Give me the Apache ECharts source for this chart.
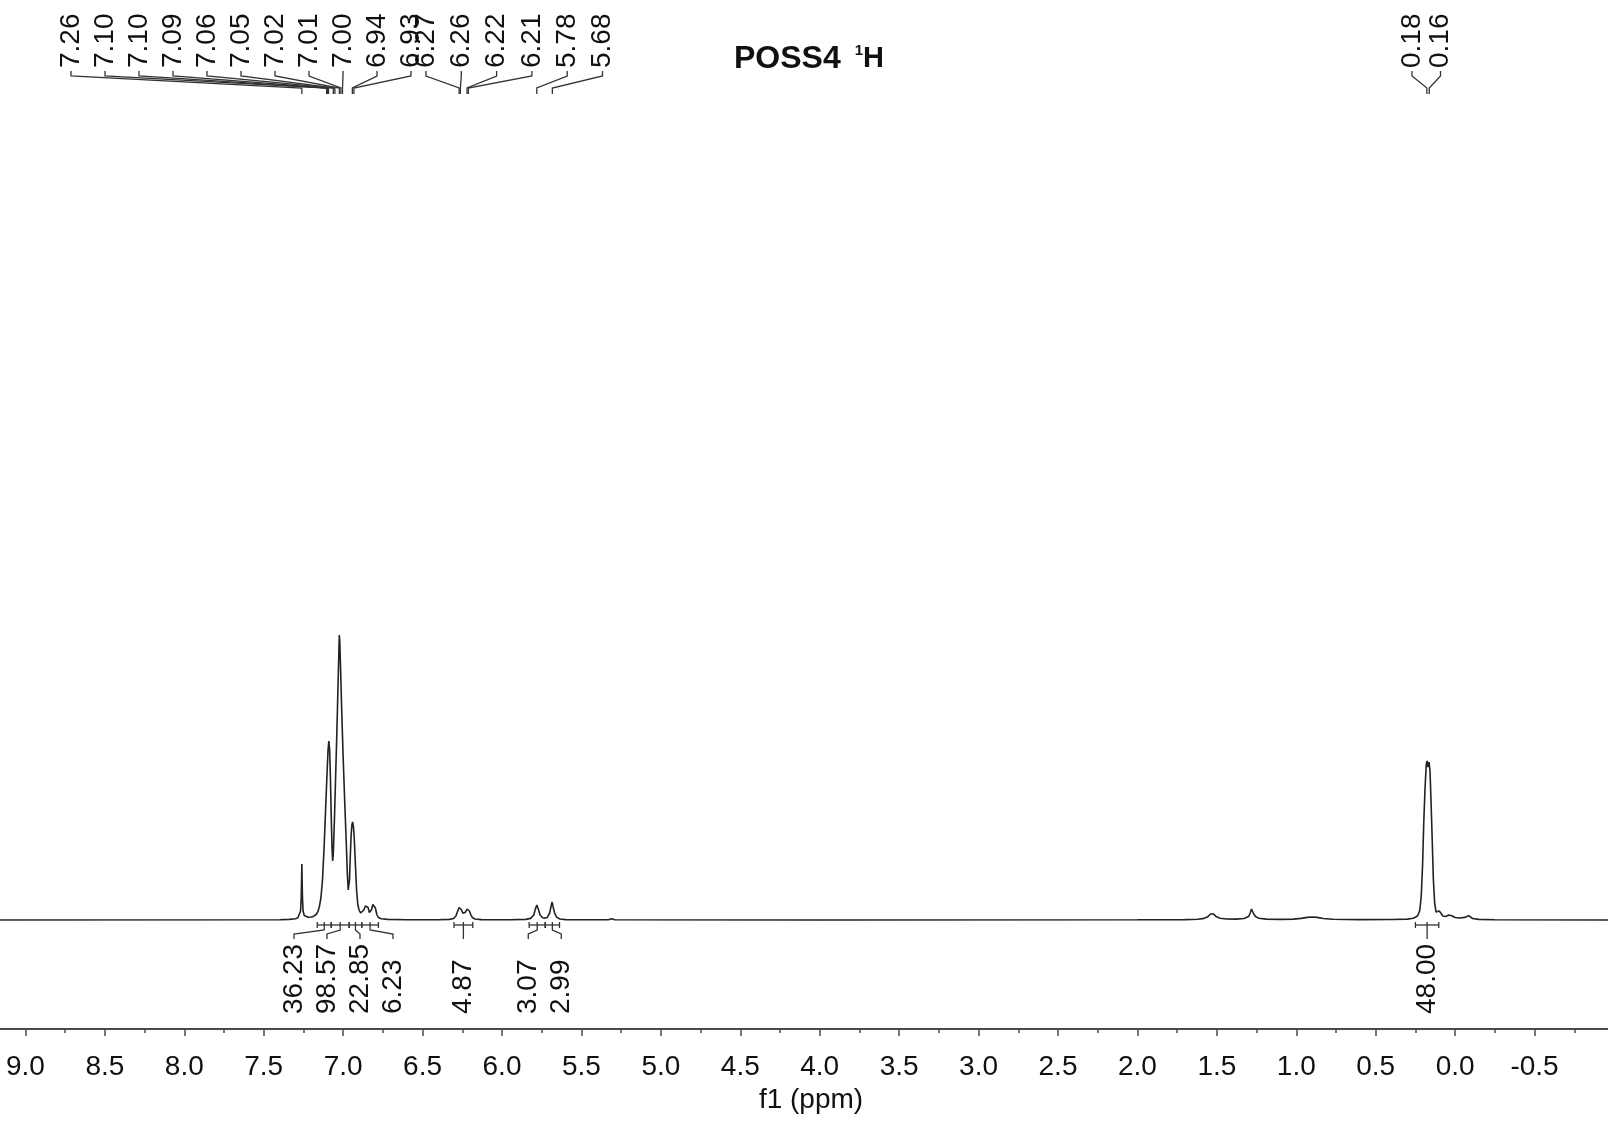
<!DOCTYPE html>
<html><head><meta charset="utf-8">
<script src="https://cdn.jsdelivr.net/npm/echarts@6/dist/echarts.min.js"></script>
<style>
html,body{margin:0;padding:0;background:#fff;overflow:hidden;width:1608px;height:1121px;}
#chart{position:absolute;left:-54px;top:0;width:1668px;height:1121px;}
</style>
</head><body><div id="chart"></div>
<script>
// ---- spectrum trace (ppm, intensity) ----
const spectrumPpm = [
  9.5, 7.40, 7.34, 7.30, 7.285, 7.275, 7.268, 7.264, 7.2615, 7.260, 7.2585, 7.256, 7.252, 7.245, 7.235, 7.22, 7.20, 7.185, 7.17, 7.16,
  7.15, 7.14, 7.13, 7.12, 7.11, 7.10, 7.095, 7.09, 7.085, 7.08, 7.075, 7.07, 7.066, 7.062, 7.055, 7.05, 7.04, 7.03, 7.026, 7.024,
  7.021, 7.015, 7.01, 7.00, 6.99, 6.98, 6.974, 6.968, 6.965, 6.96, 6.955, 6.95, 6.945, 6.94, 6.935, 6.93, 6.923, 6.915, 6.908, 6.90,
  6.89, 6.88, 6.87, 6.86, 6.851, 6.843, 6.835, 6.829, 6.822, 6.813, 6.805, 6.797, 6.788, 6.778, 6.76, 6.72, 6.60, 6.40, 6.33, 6.305,
  6.29, 6.28, 6.27, 6.264, 6.256, 6.246, 6.239, 6.23, 6.22, 6.213, 6.205, 6.195, 6.185, 6.17, 6.13, 5.95, 5.85, 5.82, 5.80, 5.79,
  5.781, 5.772, 5.76, 5.745, 5.73, 5.715, 5.70, 5.692, 5.685, 5.678, 5.668, 5.655, 5.635, 5.60, 5.33, 5.31, 5.29, 4.0, 2.0, 1.70,
  1.62, 1.58, 1.555, 1.54, 1.53, 1.52, 1.505, 1.48, 1.44, 1.38, 1.33, 1.30, 1.29, 1.282, 1.276, 1.268, 1.255, 1.235, 1.19, 1.10,
  1.02, 0.97, 0.93, 0.90, 0.87, 0.83, 0.77, 0.60, 0.40, 0.30, 0.265, 0.25, 0.235, 0.222, 0.213, 0.205, 0.198, 0.19, 0.182, 0.177,
  0.1705, 0.164, 0.158, 0.151, 0.144, 0.137, 0.129, 0.12, 0.11, 0.10, 0.094, 0.088, 0.078, 0.06, 0.04, 0.03, 0.018, 0.0, -0.03, -0.06,
  -0.085, -0.095, -0.11, -0.15, -0.25, -1.0
];
const spectrumIntensity = [
  0, 0.3, 0.6, 1.2, 2.2, 4, 9, 22, 42, 56, 42, 22, 9, 4.5, 3.2, 2.8, 3.0, 3.8, 5.5, 8,
  13, 22, 40, 72, 112, 152, 170, 179, 170, 142, 104, 72, 59, 66, 100, 128, 185, 248, 275, 285,
  278, 245, 215, 163, 118, 76, 48, 30, 28, 40, 64, 84, 95, 98, 93, 82, 56, 29, 16, 10,
  7, 7.5, 10, 14, 16, 12.5, 7.5, 6.5, 10, 15.5, 17, 12, 5.5, 2.5, 1.2, 0.6, 0.3, 0.3, 0.6, 1.5,
  4, 8.5, 12.5, 13.2, 10.5, 6.8, 6, 7.8, 11, 11.5, 9, 4.8, 2.2, 1, 0.4, 0.3, 0.6, 1.6, 5, 11,
  15, 11, 5, 2.3, 1.9, 2.6, 7, 13, 18, 13, 6.5, 2.6, 1, 0.4, 0.2, 1.3, 0.2, 0, 0.2, 0.4,
  0.7, 1.6, 3.5, 6, 7.3, 6, 3.4, 1.8, 1, 0.9, 1.5, 3.5, 7, 11, 10, 6, 3.2, 1.8, 0.9, 0.6,
  0.9, 1.6, 2.6, 3, 2.6, 1.5, 0.7, 0.4, 0.5, 0.9, 1.8, 2.7, 4.5, 10, 25, 55, 95, 130, 155, 159,
  153, 158, 148, 115, 78, 40, 17, 8, 6.5, 9, 10.5, 6.5, 4, 3.5, 5, 5.3, 4, 2.5, 2, 2.6,
  4.3, 3.5, 1.5, 0.6, 0.2, 0
];
// ---- peak picking ----
const peakPpm = [7.260, 7.104, 7.098, 7.092, 7.062, 7.052, 7.024, 7.014, 7.004, 6.942, 6.932,
                 6.270, 6.262, 6.220, 6.212, 5.781, 5.683, 0.178, 0.163];
// ---- integrals ----
const integralFrom  = [7.163, 7.075, 6.962, 6.883, 6.302, 5.829, 5.728, 0.250];
const integralTo    = [7.075, 6.962, 6.883, 6.778, 6.184, 5.728, 5.638, 0.103];
const integralValue = [36.23, 98.57, 22.85, 6.23, 4.87, 3.07, 2.99, 48.00];
// ---- axis ----
const axisMin = -1.0, axisMax = 9.5, axisStep = 0.5;
const axisTitle = 'f1 (ppm)';
const chartTitle = '{b|POSS4}{s|1}{n|H}';

const FONT = '"Liberation Sans", Arial, Helvetica, sans-serif';
const INK = '#111';
const LINE = '#222';
const SHIFT = 54; // the canvas starts 54px left of the page

// label layout for the peak-picking labels (groups of evenly spaced labels, page px)
const peakLabelGroups = [
  {from: 0, to: 10, x0: 71, pitch: 34.0},
  {from: 11, to: 16, x0: 426, pitch: 35.3},
  {from: 17, to: 18, x0: 1412, pitch: 28.5}
];
function peakLabelX(i) {
  for (const g of peakLabelGroups) if (i >= g.from && i <= g.to) return SHIFT + g.x0 + (i - g.from) * g.pitch;
  return 0;
}

const chart = echarts.init(document.getElementById('chart'));

// integral label spreading (cluster + even pitch)
let integralLabelX = null;
function computeIntegralLabels(api) {
  const centers = integralFrom.map((f, i) => api.coord([(f + integralTo[i]) / 2, 0])[0]);
  const order = centers.map((c, i) => i).sort((a, b) => centers[a] - centers[b]);
  const gap = 33;
  const out = new Array(centers.length);
  let cluster = [order[0]];
  const flush = () => {
    const mean = cluster.reduce((s, k) => s + centers[k], 0) / cluster.length;
    cluster.forEach((k, j) => { out[k] = mean + (j - (cluster.length - 1) / 2) * gap - (cluster.length > 3 ? 4 : 0); });
  };
  for (let j = 1; j < order.length; j++) {
    const k = order[j];
    if (centers[k] - centers[cluster[cluster.length - 1]] < gap) cluster.push(k);
    else { flush(); cluster = [k]; }
  }
  flush();
  return out;
}

const option = {
  animation: false,
  backgroundColor: '#ffffff',
  title: {
    text: chartTitle,
    left: 734 + SHIFT, top: 43, padding: 0,
    textStyle: {
      rich: {
        b: {fontFamily: FONT, fontSize: 32, fontWeight: 'bold', color: INK, lineHeight: 32},
        s: {fontFamily: FONT, fontSize: 15, color: INK, verticalAlign: 'top', padding: [0, 0, 0, 14], lineHeight: 32},
        n: {fontFamily: FONT, fontSize: 29, color: INK, lineHeight: 32}
      }
    }
  },
  grid: {left: 0, right: 0, top: 0, bottom: 92},
  xAxis: {
    type: 'value', inverse: true, min: axisMin, max: axisMax, interval: axisStep,
    name: axisTitle, nameLocation: 'middle', nameGap: 49,
    nameTextStyle: {fontFamily: FONT, fontSize: 28, color: INK, padding: [0, 0, 0, 62]},
    axisLine: {show: true, onZero: false, lineStyle: {color: '#4a4a4a', width: 2}},
    axisTick: {show: true, length: 7, lineStyle: {color: '#4a4a4a', width: 1.5}},
    minorTick: {show: true, splitNumber: 2, length: 4, lineStyle: {color: '#4a4a4a', width: 1.5}},
    splitLine: {show: false},
    axisLabel: {
      fontFamily: FONT, fontSize: 28, color: INK, margin: 24,
      showMinLabel: false, showMaxLabel: false,
      formatter: v => v.toFixed(1)
    }
  },
  yAxis: {type: 'value', min: -109, max: 920, show: false},
  series: [
    {
      type: 'line', name: 'spectrum',
      data: spectrumPpm.map((p, i) => [p, spectrumIntensity[i]]),
      showSymbol: false, symbol: 'none', smooth: false,
      lineStyle: {color: LINE, width: 1.6}, z: 3
    },
    {
      type: 'custom', name: 'peaks', clip: false, z: 4,
      data: peakPpm.map((p, i) => [p, i]),
      renderItem: function (params, api) {
        const i = params.dataIndex;
        const ppm = api.value(0);
        const px = api.coord([ppm, 0])[0];
        const lx = peakLabelX(i);
        return {
          type: 'group',
          children: [
            {type: 'text', x: lx, y: 68, rotation: Math.PI / 2,
             style: {text: ppm.toFixed(2), fill: INK, fontFamily: FONT, fontSize: 28, align: 'left', verticalAlign: 'middle'}},
            {type: 'polyline', shape: {points: [[lx, 71], [lx, 76], [px, 88], [px, 94]]},
             style: {stroke: '#333', lineWidth: 1.3, fill: null}}
          ]
        };
      }
    },
    {
      type: 'custom', name: 'integrals', clip: false, z: 4,
      data: integralValue.map((v, i) => [integralFrom[i], integralTo[i], v]),
      renderItem: function (params, api) {
        const i = params.dataIndex;
        if (!integralLabelX || i === 0) integralLabelX = computeIntegralLabels(api);
        const f = api.value(0), t = api.value(1), v = api.value(2);
        const x1 = api.coord([f, 0])[0];
        const x2 = api.coord([t, 0])[0];
        const base = api.coord([f, 0])[1];
        const cx = api.coord([(f + t) / 2, 0])[0];
        const lx = integralLabelX[i];
        const st = {stroke: '#333', lineWidth: 1.3, fill: null};
        return {
          type: 'group',
          children: [
            {type: 'polyline', shape: {points: [[x1, base + 2], [x1, base + 8]]}, style: st},
            {type: 'polyline', shape: {points: [[x2, base + 2], [x2, base + 8]]}, style: st},
            {type: 'polyline', shape: {points: [[x1, base + 5], [x2, base + 5]]}, style: st},
            {type: 'polyline', shape: {points: [[cx, base + 2], [cx, base + 10], [lx, base + 14], [lx, base + 19]]}, style: st},
            {type: 'text', x: lx, y: base + 94, rotation: Math.PI / 2,
             style: {text: v.toFixed(2), fill: INK, fontFamily: FONT, fontSize: 28, align: 'left', verticalAlign: 'middle'}}
          ]
        };
      }
    }
  ]
};
chart.setOption(option);
</script>
</body></html>
